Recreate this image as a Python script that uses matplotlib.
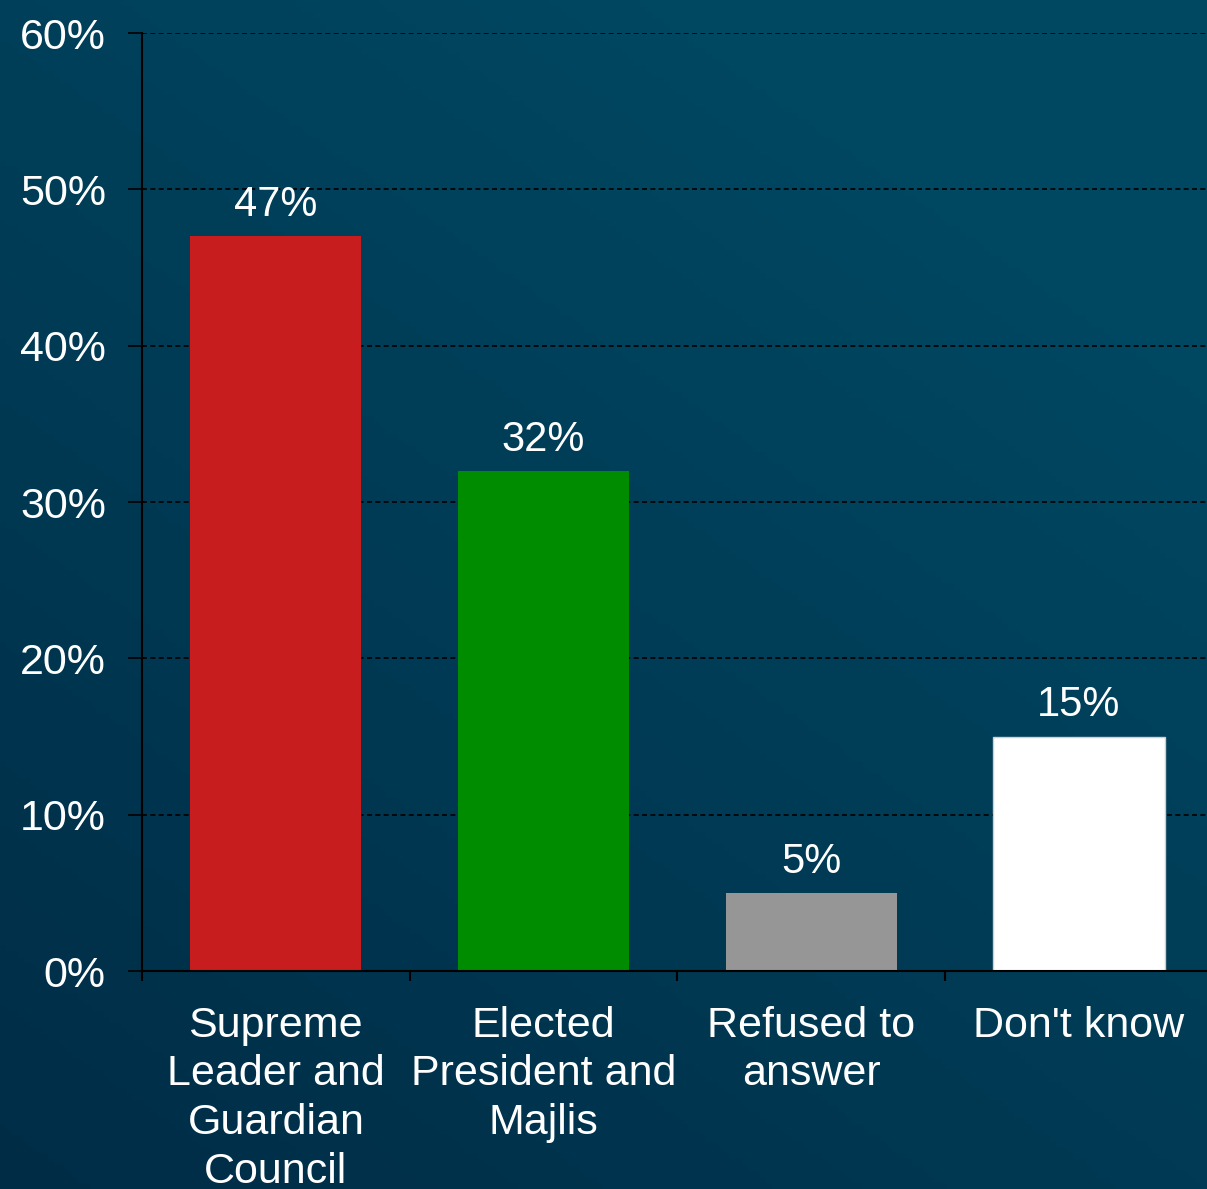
import numpy as np
from matplotlib import pyplot as plt

categories = ["Supreme\nLeader and\nGuardian\nCouncil", "Elected\nPresident and\nMajlis",
              "Refused to\nanswer", "Don't know"]
values = [47, 32, 5, 15]
colors = ["#c81d1e", "#008c00", "#969696", "#ffffff"]
yticks = [0, 10, 20, 30, 40, 50, 60]

plt.rcParams['font.family'] = ['Liberation Sans', 'DejaVu Sans']

fig = plt.figure(figsize=(12.07, 11.89), dpi=100)

# fond dégradé bleu sombre
bg = fig.add_axes([0, 0, 1, 1])
gx, gy = np.meshgrid(np.linspace(0, 1, 200), np.linspace(0, 1, 200))
t = np.clip(0.5 * gx + 0.7 * (1 - gy), 0, 1)
dark = np.array([0, 44, 70]) / 255.
light = np.array([0, 72, 98]) / 255.
img = dark[None, None, :] * (1 - t[..., None]) + light[None, None, :] * t[..., None]
bg.imshow(img, aspect='auto', extent=[0, 1, 0, 1])
bg.axis('off')

ax = fig.add_axes([0.1176, 0.1833, 0.8873, 0.7889])
ax.patch.set_alpha(0)
x = np.arange(len(values))
ax.bar(x, values, width=0.64, color=colors, zorder=3,
       edgecolor=["none", "none", "none", "#c8d2d6"], linewidth=1)

for xi, v in zip(x, values):
    ax.annotate("%d%%" % v, (xi, v), xytext=(0, 8), textcoords='offset points',
                ha='center', va='bottom', color='white', fontsize=30)

ax.set_xlim(-0.5, 3.5)
ax.set_ylim(0, 60)
ax.set_yticks(yticks)
ax.set_yticklabels(["%d%%" % y for y in yticks])
ax.set_xticks(x)
ax.set_xticklabels(categories, linespacing=1.28)
ax.set_xticks([-0.5, 0.5, 1.5, 2.5], minor=True)

ax.tick_params(axis='x', which='major', length=0, pad=25, labelsize=31, labelcolor='white')
ax.tick_params(axis='x', which='minor', length=7, width=1.5, direction='out', color='black')
ax.tick_params(axis='y', length=10, width=1.2, direction='out', color='black',
               pad=16, labelsize=31, labelcolor='white')

ax.grid(axis='y', linestyle=(0, (3, 2)), color='black', linewidth=1.2, zorder=0)
for s in ['top', 'right']:
    ax.spines[s].set_visible(False)
ax.spines['left'].set_linewidth(1.5)
ax.spines['bottom'].set_linewidth(1.5)
ax.spines['left'].set_zorder(4)
ax.spines['bottom'].set_zorder(4)

plt.savefig("out.png", dpi=100)
